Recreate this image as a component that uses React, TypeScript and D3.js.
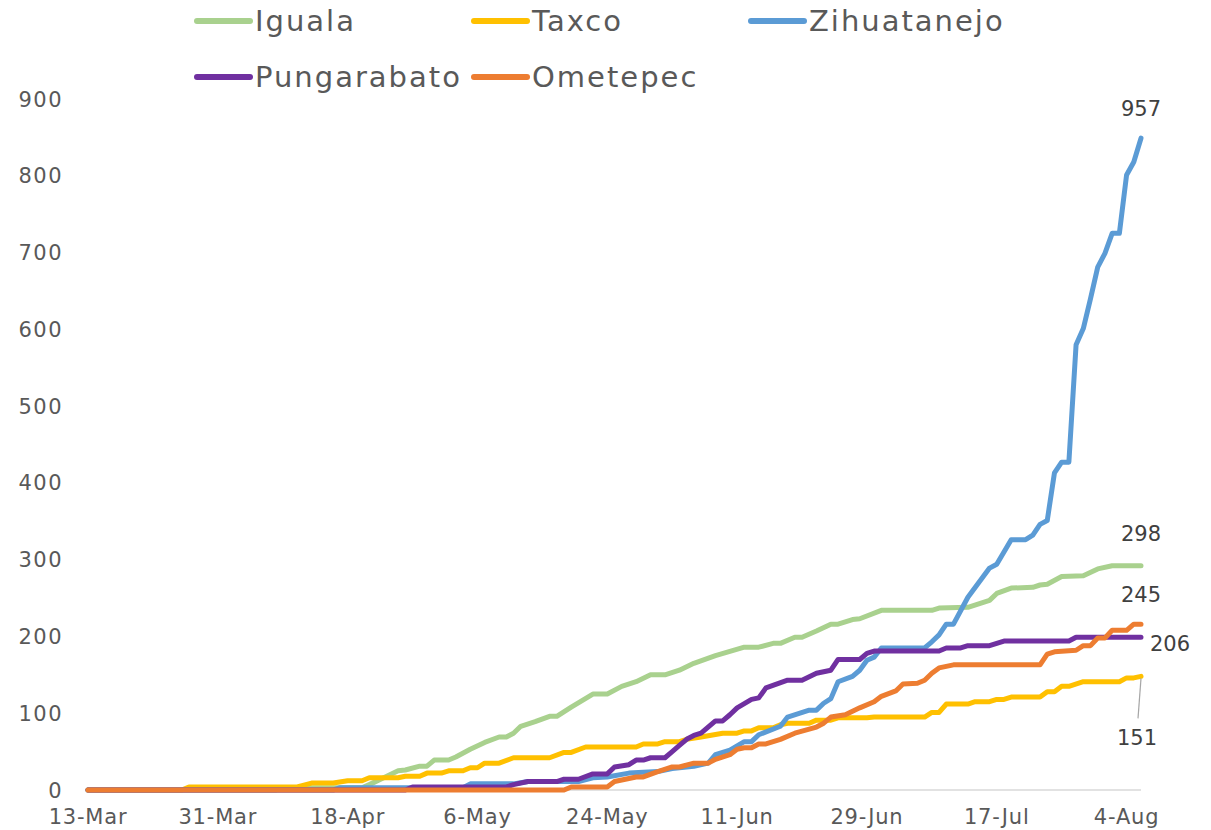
import React from 'react';
import * as d3 from 'd3';

// cumulative cases by municipality, day offsets counted from 13-Mar-2020
const START = new Date(2020, 2, 13);
const LAST_DAY = 146;
const X_TICK_DAYS = [0, 18, 36, 54, 72, 90, 108, 126, 144];
const Y_TICKS = [0, 100, 200, 300, 400, 500, 600, 700, 800, 900];

const NAMES = ['Iguala', 'Taxco', 'Zihuatanejo', 'Pungarabato', 'Ometepec'];
const COLORS = ['#A9D18E', '#FFC000', '#5B9BD5', '#7030A0', '#ED7D31'];
const END_LABELS = ['298', '151', '957', '206', '245'];

const iguala: [number, number][] = [
  [0, 0], [26, 0], [27, 3], [38, 3], [39, 7], [41, 16], [43, 25], [44, 26], [46, 31], [47, 31],
  [48, 39], [50, 39], [51, 43], [53, 53], [55, 62], [57, 69], [58, 69], [59, 74], [60, 83],
  [62, 89], [64, 96], [65, 96], [67, 108], [70, 125], [72, 125], [74, 135], [76, 141], [78, 150],
  [80, 150], [82, 156], [84, 165], [87, 175], [91, 186], [93, 186], [95, 191], [96, 191],
  [98, 199], [99, 199], [101, 207], [103, 216], [104, 216], [106, 222], [107, 223], [110, 234],
  [117, 234], [118, 237], [122, 238], [125, 247], [126, 256], [128, 263], [131, 264], [132, 267],
  [133, 268], [135, 278], [138, 279], [140, 288], [142, 292], [146, 292],
];

const taxco: [number, number][] = [
  [0, 0], [13, 0], [14, 4], [29, 4], [31, 9], [34, 9], [36, 12], [38, 12], [39, 16], [43, 16],
  [44, 18], [46, 18], [47, 22], [49, 22], [50, 25], [52, 25], [53, 29], [54, 29], [55, 35],
  [57, 35], [59, 42], [64, 42], [66, 49], [67, 49], [69, 56], [76, 56], [77, 60], [79, 60],
  [80, 63], [82, 63], [83, 66], [85, 69], [88, 74], [90, 74], [91, 77], [92, 77], [93, 81],
  [95, 81], [96, 85], [97, 87], [100, 87], [101, 91], [103, 91], [104, 94], [108, 94], [109, 95],
  [116, 95], [117, 101], [118, 101], [119, 112], [122, 112], [123, 115], [125, 115], [126, 118],
  [127, 118], [128, 121], [132, 121], [133, 128], [134, 128], [135, 135], [136, 135], [138, 141],
  [143, 141], [144, 146], [145, 146], [146, 148],
];

const zihuatanejo: [number, number][] = [
  [0, 0], [34, 0], [35, 3], [52, 3], [53, 8], [59, 8], [61, 11], [68, 11], [70, 16], [72, 17],
  [75, 22], [79, 24], [81, 28], [84, 31], [86, 35], [87, 46], [89, 52], [91, 63], [92, 63],
  [93, 72], [96, 83], [97, 95], [100, 104], [101, 104], [102, 113], [103, 119], [104, 141],
  [106, 148], [107, 156], [108, 169], [109, 173], [110, 185], [116, 185], [117, 193], [118, 202],
  [119, 216], [120, 216], [122, 251], [125, 289], [126, 294], [128, 326], [130, 326], [131, 332],
  [132, 346], [133, 351], [134, 413], [135, 427], [136, 427], [137, 580], [138, 601], [139, 640],
  [140, 681], [141, 699], [142, 725], [143, 725], [144, 801], [145, 818], [146, 849],
];

const pungarabato: [number, number][] = [
  [0, 0], [44, 0], [45, 4], [58, 4], [59, 7], [61, 11], [65, 11], [66, 14], [68, 14], [70, 21],
  [72, 21], [73, 30], [75, 33], [76, 39], [77, 39], [78, 42], [80, 42], [81, 50], [82, 58],
  [83, 66], [84, 71], [85, 74], [87, 90], [88, 90], [89, 98], [90, 107], [92, 118], [93, 120],
  [94, 133], [97, 143], [99, 143], [101, 152], [103, 156], [104, 170], [107, 170], [108, 178],
  [109, 181], [118, 181], [119, 185], [121, 185], [122, 188], [125, 188], [127, 194], [136, 194],
  [137, 199], [146, 199],
];

const ometepec: [number, number][] = [
  [0, 0], [66, 0], [67, 4], [72, 4], [73, 11], [74, 13], [76, 17], [77, 17], [79, 24], [81, 30],
  [82, 30], [84, 35], [86, 35], [87, 40], [89, 46], [90, 53], [91, 55], [92, 55], [93, 60],
  [94, 60], [96, 66], [98, 74], [101, 82], [102, 87], [103, 95], [105, 98], [107, 107], [109, 115],
  [110, 122], [112, 129], [113, 138], [115, 139], [116, 143], [117, 152], [118, 159], [120, 163],
  [132, 163], [133, 177], [134, 180], [137, 182], [138, 188], [139, 188], [140, 198], [141, 198],
  [142, 208], [144, 208], [145, 216], [146, 216],
];

const SERIES = [iguala, taxco, zihuatanejo, pungarabato, ometepec];

// label placement relative to the last point of each line
const LABEL_POS = [
  { dx: 0, dy: -32, anchor: 'middle' },
  { dx: -4, dy: 61, anchor: 'middle', leader: true },
  { dx: 0, dy: -30, anchor: 'middle' },
  { dx: 9, dy: 6, anchor: 'start' },
  { dx: 0, dy: -30, anchor: 'middle' },
];

const W = 1211;
const H = 830;
const FONT = '"DejaVu Sans", sans-serif';
const TEXT = '#595959';

const fmt = d3.timeFormat('%-d-%b');
const day = (d: number) => d3.timeDay.offset(START, d);

export default function App() {
  const x = d3.scaleTime().domain([START, day(LAST_DAY)]).range([88, 1141]);
  const y = d3.scaleLinear().domain([0, 900]).range([790, 99]);

  const line = d3.line<[number, number]>()
    .x(d => x(day(d[0])))
    .y(d => y(d[1]));

  const legendRows = [
    [0, 1, 2],
    [3, 4],
  ];

  return (
    <svg width={W} height={H} style={{ position: 'absolute', left: 0, top: 0, background: '#fff' }}
      fontFamily={FONT}>
      {/* legend */}
      {legendRows.map((row, r) =>
        row.map((si, c) => {
          const lx = 197 + c * 277;
          const ly = 21 + r * 56;
          return (
            <g key={si}>
              <line x1={lx} x2={lx + 53} y1={ly} y2={ly} stroke={COLORS[si]} strokeWidth={6} strokeLinecap="round" />
              <text x={lx + 58} y={ly} dy="0.36em" fontSize={29} fill={TEXT} letterSpacing={2}>{NAMES[si]}</text>
            </g>
          );
        })
      )}

      {/* y tick labels */}
      {Y_TICKS.map(t => (
        <text key={t} x={63} y={y(t)} dy="0.36em" textAnchor="end" fontSize={21} fill={TEXT} letterSpacing={1.5}>{t}</text>
      ))}

      {/* x axis */}
      <line x1={88} x2={1141} y1={y(0)} y2={y(0)} stroke="#d9d9d9" strokeWidth={1.5} />
      {X_TICK_DAYS.map(t => (
        <text key={t} x={x(day(t))} y={816} dy="0.36em" textAnchor="middle" fontSize={21} fill={TEXT} letterSpacing={0.8}>{fmt(day(t))}</text>
      ))}

      {/* lines */}
      {SERIES.map((s, i) => (
        <path key={NAMES[i]} d={line(s) || ''} fill="none" stroke={COLORS[i]} strokeWidth={5}
          strokeLinejoin="round" strokeLinecap="round" />
      ))}

      {/* end labels */}
      {SERIES.map((s, i) => {
        const last = s[s.length - 1];
        const px = x(day(last[0]));
        const py = y(last[1]);
        const p = LABEL_POS[i];
        return (
          <g key={'lbl' + i}>
            {p.leader && (
              <line x1={px} y1={py + 2} x2={px - 3} y2={py + 42} stroke="#a6a6a6" strokeWidth={1.2} />
            )}
            <text x={px + p.dx} y={py + p.dy} dy="0.36em" textAnchor={p.anchor as any} fontSize={21} fill="#404040">
              {END_LABELS[i]}
            </text>
          </g>
        );
      })}
    </svg>
  );
}
